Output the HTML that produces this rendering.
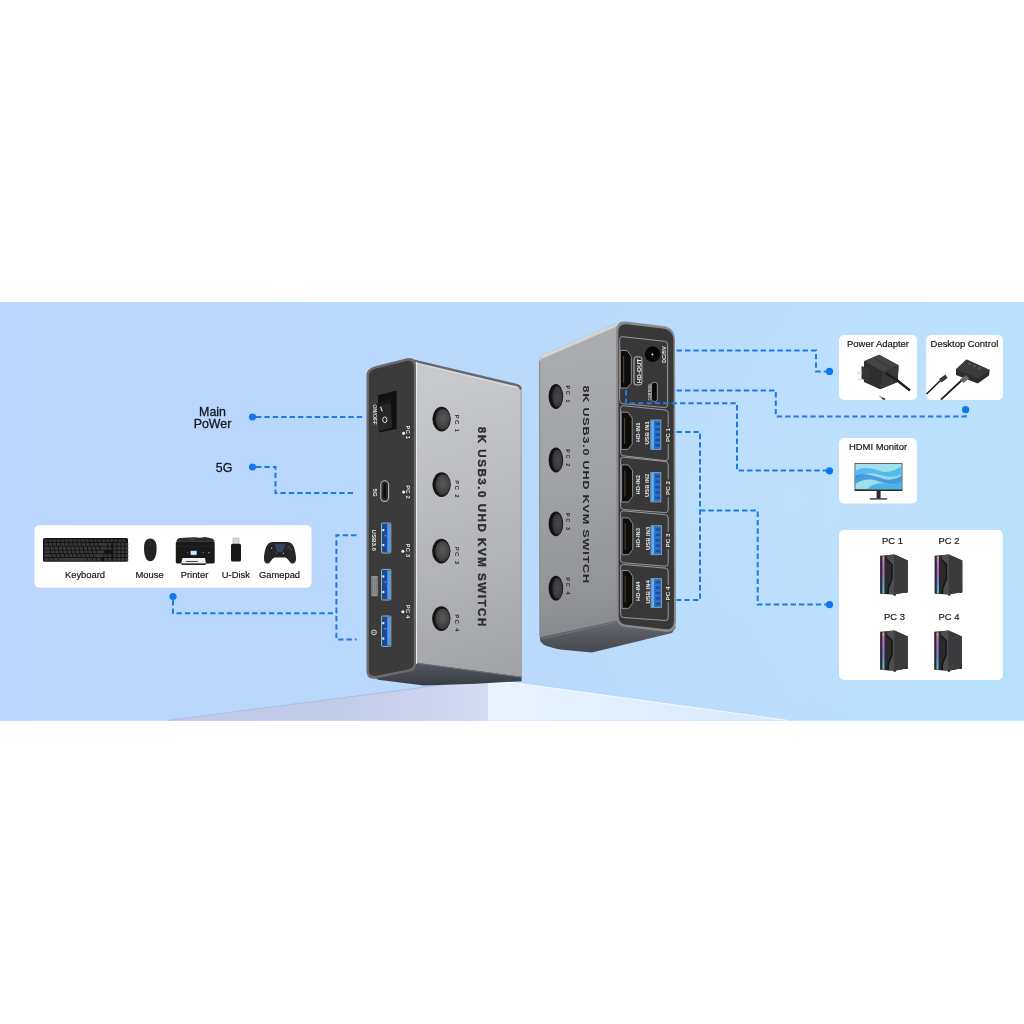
<!DOCTYPE html>
<html><head><meta charset="utf-8">
<style>
html,body{margin:0;padding:0;background:#fff;width:1024px;height:1024px;overflow:hidden}
svg{display:block;will-change:transform}
text{font-family:"Liberation Sans",sans-serif}
</style></head>
<body>
<svg width="1024" height="1024" viewBox="0 0 1024 1024">
<defs>
  <linearGradient id="bg" x1="0" y1="0" x2="1" y2="0">
    <stop offset="0" stop-color="#bad6fe"/>
    <stop offset="0.45" stop-color="#b9d9fd"/>
    <stop offset="0.75" stop-color="#b9ddfd"/>
    <stop offset="1" stop-color="#b9e1fd"/>
  </linearGradient>
  <radialGradient id="glow" cx="790" cy="500" r="280" gradientUnits="userSpaceOnUse">
    <stop offset="0" stop-color="#cde8fd" stop-opacity="0.25"/>
    <stop offset="1" stop-color="#cde8fd" stop-opacity="0"/>
  </radialGradient>
  <linearGradient id="pedL" x1="168" y1="0" x2="488" y2="0" gradientUnits="userSpaceOnUse">
    <stop offset="0" stop-color="#bfcae8"/>
    <stop offset="0.55" stop-color="#c2cbe8"/>
    <stop offset="0.8" stop-color="#ccd4ee"/>
    <stop offset="1" stop-color="#d5dcf1"/>
  </linearGradient>
  <linearGradient id="pedR" x1="488" y1="0" x2="788" y2="0" gradientUnits="userSpaceOnUse">
    <stop offset="0" stop-color="#e9f3fe"/>
    <stop offset="1" stop-color="#d8eafd"/>
  </linearGradient>
  <linearGradient id="sideL" x1="430" y1="370" x2="515" y2="676" gradientUnits="userSpaceOnUse">
    <stop offset="0" stop-color="#c9cacd"/>
    <stop offset="0.5" stop-color="#b8b9bd"/>
    <stop offset="1" stop-color="#a1a2a6"/>
  </linearGradient>
  <linearGradient id="undL" x1="0" y1="662" x2="0" y2="686" gradientUnits="userSpaceOnUse">
    <stop offset="0" stop-color="#555962"/>
    <stop offset="1" stop-color="#383b43"/>
  </linearGradient>
  <linearGradient id="undR" x1="0" y1="625" x2="0" y2="652" gradientUnits="userSpaceOnUse">
    <stop offset="0" stop-color="#62656c"/>
    <stop offset="0.5" stop-color="#53565d"/>
    <stop offset="1" stop-color="#45484f"/>
  </linearGradient>
  <linearGradient id="sideR" x1="560" y1="340" x2="600" y2="640" gradientUnits="userSpaceOnUse">
    <stop offset="0" stop-color="#abacb0"/>
    <stop offset="0.5" stop-color="#a0a1a5"/>
    <stop offset="0.85" stop-color="#929397"/>
    <stop offset="1" stop-color="#85868a"/>
  </linearGradient>
  <radialGradient id="btnL" cx="0.5" cy="0.45" r="0.6">
    <stop offset="0" stop-color="#58585a"/>
    <stop offset="0.7" stop-color="#434345"/>
    <stop offset="1" stop-color="#2a2a2b"/>
  </radialGradient>
  <radialGradient id="btnR" cx="0.5" cy="0.5" r="0.6">
    <stop offset="0" stop-color="#4a4a4c"/>
    <stop offset="0.7" stop-color="#38383a"/>
    <stop offset="1" stop-color="#232324"/>
  </radialGradient>
  <linearGradient id="scr" x1="0" y1="0" x2="1" y2="1">
    <stop offset="0" stop-color="#a8dcf2"/>
    <stop offset="0.5" stop-color="#9ee0ea"/>
    <stop offset="1" stop-color="#7fd2e8"/>
  </linearGradient>
  <linearGradient id="rgb" x1="0" y1="0" x2="0" y2="1">
    <stop offset="0" stop-color="#d8a878"/>
    <stop offset="0.15" stop-color="#c070c8"/>
    <stop offset="0.45" stop-color="#a868d0"/>
    <stop offset="0.7" stop-color="#6a90d8"/>
    <stop offset="1" stop-color="#48c8b8"/>
  </linearGradient>
</defs>

<!-- background band -->
<rect x="0" y="302" width="1024" height="418.8" fill="url(#bg)"/>
<rect x="0" y="302" width="1024" height="418.8" fill="url(#glow)"/>

<!-- pedestal -->
<polygon points="168,720.5 488,679 488,720.5" fill="url(#pedL)"/>
<polygon points="488,679 788,720.5 488,720.5" fill="url(#pedR)"/>
<line x1="168" y1="720.3" x2="488" y2="679" stroke="#a9b9dc" stroke-width="0.8"/>
<line x1="488.5" y1="679.3" x2="788" y2="720.5" stroke="#f6faff" stroke-width="1"/>

<!-- ===== LEFT DEVICE ===== -->
<g id="devL">
  <!-- underside -->
  <polygon points="412,661 521.6,675.5 521.6,681.2 476,683.8 424,685.6 378,679.8 372,676" fill="url(#undL)"/>
  <!-- side face -->
  <path d="M412,360.2 L517,385.2 Q521.6,386.2 521.6,390 L521.6,676.8 L412,662.3 Z" fill="url(#sideL)"/>
  <path d="M412,362 L518,387.5" stroke="#d9dadc" stroke-width="1.6"/>
  <line x1="414" y1="662.8" x2="521.6" y2="677.3" stroke="#6d7078" stroke-width="1"/>
  <path d="M409.5,359.6 L517,385.1 Q520,385.9 520.6,388.5" stroke="#66686d" stroke-width="2.4" stroke-linecap="round" fill="none"/>
  <line x1="416.6" y1="362" x2="416.6" y2="664" stroke="#f2f2f3" stroke-width="1"/>
  <line x1="521.1" y1="390" x2="521.1" y2="676" stroke="#9a9ca3" stroke-width="1"/>
  <!-- buttons -->
  <g>
    <ellipse cx="441.6" cy="419.1" rx="9.2" ry="12.3" fill="#151516"/>
    <ellipse cx="442.90000000000003" cy="419.40000000000003" rx="7.3" ry="10.4" fill="url(#btnL)"/>
    <ellipse cx="441.6" cy="484.6" rx="9.2" ry="12.3" fill="#151516"/>
    <ellipse cx="442.90000000000003" cy="484.90000000000003" rx="7.3" ry="10.4" fill="url(#btnL)"/>
    <ellipse cx="441.3" cy="551.1" rx="9.2" ry="12.3" fill="#151516"/>
    <ellipse cx="442.6" cy="551.4" rx="7.3" ry="10.4" fill="url(#btnL)"/>
    <ellipse cx="441.3" cy="618.6" rx="9.2" ry="12.3" fill="#151516"/>
    <ellipse cx="442.6" cy="618.9" rx="7.3" ry="10.4" fill="url(#btnL)"/>
  </g>
  <g font-size="6" font-weight="bold" fill="#2a2b2e">
    <text transform="translate(455.2,414.6) rotate(90)" textLength="17.2" lengthAdjust="spacing">PC 1</text>
    <text transform="translate(455.2,480.3) rotate(90)" textLength="17.2" lengthAdjust="spacing">PC 2</text>
    <text transform="translate(455,546.8) rotate(90)" textLength="17.2" lengthAdjust="spacing">PC 3</text>
    <text transform="translate(455,614.3) rotate(90)" textLength="17.2" lengthAdjust="spacing">PC 4</text>
  </g>
  <text transform="translate(477.6,426.8) rotate(90)" font-size="11.6" font-weight="bold" fill="#2c2d31" stroke="#2c2d31" stroke-width="0.35" textLength="199.5" lengthAdjust="spacing">8K USB3.0 UHD KVM SWITCH</text>
  <!-- front face -->
  <path d="M376,366 L407,358.2 Q416,356.5 416,366 L416,664 Q416,670.5 409,671.5 L376,678.5 Q366.5,680 366.5,671 L366.5,375 Q366.5,368.3 376,366 Z" fill="#6a6b6e"/>
  <path d="M377,368.3 L406.5,361 Q413.8,359.5 413.8,367 L413.8,663 Q413.8,668.5 408,669.5 L376.5,675.8 Q368.8,677 368.8,670 L368.8,376.5 Q368.8,370.3 377,368.3 Z" fill="#3b3b3b"/>
  <!-- rocker switch -->
  <polygon points="378,395.2 396.6,390.6 396.6,429 379,432.6" fill="#101011"/>
  <polygon points="375.6,404.5 390.5,398.5 392.2,427.8 379.5,431.2" fill="#272728"/>
  <polygon points="375.6,404.5 390.5,398.5 390.8,402.5 377,407.5" fill="#1a1a1b"/>
  <line x1="380.6" y1="406.8" x2="382.2" y2="411.4" stroke="#ececec" stroke-width="1.1"/>
  <ellipse cx="384.8" cy="419.8" rx="2.1" ry="2.9" fill="none" stroke="#ececec" stroke-width="0.9"/>
  <text transform="translate(373.2,404.2) rotate(90)" font-size="4.6" font-weight="bold" fill="#d8d8d8" textLength="20.5" lengthAdjust="spacingAndGlyphs">ON/OFF</text>
  <!-- LEDs -->
  <g fill="#f2f2f2">
    <circle cx="403.6" cy="433.3" r="1.5"/>
    <circle cx="403.6" cy="492" r="1.5"/>
    <circle cx="402.9" cy="551.2" r="1.5"/>
    <circle cx="402.9" cy="611.7" r="1.5"/>
  </g>
  <g font-size="5.6" font-weight="bold" fill="#e6e6e6">
    <text transform="translate(406,425.6) rotate(90)" textLength="13.5" lengthAdjust="spacing">PC 1</text>
    <text transform="translate(406,485.2) rotate(90)" textLength="13.5" lengthAdjust="spacing">PC 2</text>
    <text transform="translate(405.6,543.6) rotate(90)" textLength="13.5" lengthAdjust="spacing">PC 3</text>
    <text transform="translate(405.6,604.8) rotate(90)" textLength="13.5" lengthAdjust="spacing">PC 4</text>
  </g>
  <!-- type c 5G -->
  <rect x="380.8" y="480.8" width="7.8" height="20.6" rx="3.9" fill="#2a2a2b" stroke="#b9b9bb" stroke-width="1.1"/>
  <rect x="383.4" y="484" width="2.6" height="14.2" rx="1.3" fill="#0c0c0c"/>
  <text transform="translate(372.8,488.6) rotate(90)" font-size="6" font-weight="bold" fill="#e6e6e6">5G</text>
  <!-- USB ports -->
  <g>
    <rect x="381.5" y="523" width="9.3" height="30" rx="1" fill="#1d4a90" stroke="#a9abb0" stroke-width="1"/>
    <rect x="387.2" y="524" width="3" height="28" fill="#4a9cf0"/>
    <rect x="382.3" y="529" width="2" height="2.2" fill="#e8eef6"/>
    <rect x="382.3" y="544" width="2" height="2.2" fill="#e8eef6"/>
    <rect x="384.8" y="535" width="1.2" height="1.4" fill="#8aa8d0"/>
    <rect x="381.5" y="569.4" width="9.3" height="30.6" rx="1" fill="#1d4a90" stroke="#a9abb0" stroke-width="1"/>
    <rect x="387.2" y="570.4" width="3" height="28.6" fill="#4a9cf0"/>
    <rect x="382.3" y="575.4" width="2" height="2.2" fill="#e8eef6"/>
    <rect x="382.3" y="591.0" width="2" height="2.2" fill="#e8eef6"/>
    <rect x="384.8" y="581.4" width="1.2" height="1.4" fill="#8aa8d0"/>
    <rect x="381.5" y="616" width="9.3" height="30.4" rx="1" fill="#1d4a90" stroke="#a9abb0" stroke-width="1"/>
    <rect x="387.2" y="617" width="3" height="28.4" fill="#4a9cf0"/>
    <rect x="382.3" y="622" width="2" height="2.2" fill="#e8eef6"/>
    <rect x="382.3" y="637.4" width="2" height="2.2" fill="#e8eef6"/>
    <rect x="384.8" y="628" width="1.2" height="1.4" fill="#8aa8d0"/>
  </g>
  <text transform="translate(372.2,529.5) rotate(90)" font-size="5.6" font-weight="bold" fill="#e6e6e6" textLength="21.5" lengthAdjust="spacingAndGlyphs">USB3.0</text>
  <rect x="371.3" y="576" width="6.5" height="20.3" fill="#8d8e91"/>
  <g stroke="#6e6f72" stroke-width="0.6">
    <line x1="372.5" y1="578" x2="372.5" y2="594"/><line x1="374.5" y1="578" x2="374.5" y2="594"/><line x1="376.5" y1="578" x2="376.5" y2="594"/>
  </g>
  <circle cx="374" cy="632.4" r="2.4" fill="none" stroke="#e6e6e6" stroke-width="0.9"/>
  <line x1="372.5" y1="632.4" x2="375.5" y2="632.4" stroke="#e6e6e6" stroke-width="0.6"/>
</g>

<!-- ===== RIGHT DEVICE ===== -->
<g id="devR">
  <!-- underside -->
  <path d="M540,636 L617,619.5 L676,627 L672,633 L592,652.5 L560,649.5 Q541,646 540,640 Z" fill="url(#undR)"/>
  <!-- side face -->
  <path d="M538.9,360 Q538.9,356 542.5,354.8 L617,322.5 L617,620.5 L539.6,637.5 Z" fill="url(#sideR)"/>
  <line x1="539.5" y1="361" x2="539.9" y2="636" stroke="#85878d" stroke-width="0.9"/>
  <path d="M541,639 L617,622" stroke="#74777e" stroke-width="1.2"/>
  <path d="M539.3,360.5 Q539.3,356 542.5,354.8 L617,322.5 L617,326.5 L542,358.8 Q539.6,360 539.3,362 Z" fill="#d2d3d6"/>
  <!-- buttons -->
  <g>
    <ellipse cx="555.9" cy="396.5" rx="7.3" ry="12.4" fill="#121213"/>
    <ellipse cx="557.5" cy="396.7" rx="5.2" ry="10.6" fill="url(#btnR)"/>
    <ellipse cx="555.9" cy="460" rx="7.3" ry="12.4" fill="#121213"/>
    <ellipse cx="557.5" cy="460.2" rx="5.2" ry="10.6" fill="url(#btnR)"/>
    <ellipse cx="555.9" cy="523.8" rx="7.3" ry="12.4" fill="#121213"/>
    <ellipse cx="557.5" cy="524.0" rx="5.2" ry="10.6" fill="url(#btnR)"/>
    <ellipse cx="555.9" cy="588.2" rx="7.3" ry="12.4" fill="#121213"/>
    <ellipse cx="557.5" cy="588.4000000000001" rx="5.2" ry="10.6" fill="url(#btnR)"/>
  </g>
  <g font-size="5.4" font-weight="bold" fill="#2a2b2e">
    <text transform="translate(566.3,385.6) rotate(90)" textLength="17" lengthAdjust="spacing">PC 1</text>
    <text transform="translate(566.3,449.2) rotate(90)" textLength="17" lengthAdjust="spacing">PC 2</text>
    <text transform="translate(566.3,513) rotate(90)" textLength="17" lengthAdjust="spacing">PC 3</text>
    <text transform="translate(566.3,577.4) rotate(90)" textLength="17" lengthAdjust="spacing">PC 4</text>
  </g>
  <text transform="translate(582.6,385.4) rotate(90) scale(1,0.78)" font-size="12.6" font-weight="bold" fill="#26272b" textLength="197.6" lengthAdjust="spacing">8K USB3.0 UHD KVM SWITCH</text>
  <!-- front face -->
  <path d="M616,331 Q616,320.5 626,321.5 L663,326 Q675,327.5 675,340 L676,621 Q676,632.5 667,632 L626,627 Q616.5,626 616.5,617 Z" fill="#8a8b8f"/>
  <path d="M618.3,332 Q618.3,323.5 626.5,324.3 L662.5,328.6 Q673.5,330 673.5,341 L674,620 Q674,629.8 666.5,629.3 L626,624.7 Q618.7,624 618.7,616.5 Z" fill="#383838"/>
  <!-- panels -->
  <g fill="none" stroke="#a3a4a8" stroke-width="0.9">
    <path d="M619.7,339.4 Q619.7,336.4 622.7,336.7 L664.6,341.3 Q667.6,341.6 667.6,344.6 L667.6,404.8 Q667.6,407.8 664.6,407.5 L622.7,403.6 Q619.7,403.3 619.7,400.3 Z"/>
    <path d="M668.2,444 L668.2,458 Q668.2,461 665.2,460.7 L623.6,455.8 Q620.6,455.5 620.6,452.5 L620.6,408.4 Q620.6,405.4 623.6,405.7 L665.2,410.0 Q668.2,410.3 668.2,413.3 L668.2,427"/>
    <path d="M668.2,497 L668.2,509.9 Q668.2,512.9 665.2,512.6 L623.6,509.5 Q620.6,509.2 620.6,506.2 L620.6,459.9 Q620.6,456.9 623.6,457.2 L665.2,461.5 Q668.2,461.8 668.2,464.8 L668.2,479.5"/>
    <path d="M668.2,549 L668.2,563.5 Q668.2,566.5 665.2,566.2 L623.6,562.8 Q620.6,562.5 620.6,559.5 L620.6,513.6 Q620.6,510.6 623.6,510.90000000000003 L665.2,514.7 Q668.2,515 668.2,518 L668.2,532"/>
    <path d="M668.2,602 L668.2,617.8 Q668.2,620.8 665.2,620.5 L623.6,617.5 Q620.6,617.2 620.6,614.2 L620.6,567.2 Q620.6,564.2 623.6,564.5 L665.2,568.1 Q668.2,568.4 668.2,571.4 L668.2,585"/>
    </g>
  <!-- HDMI ports -->
  <g fill="#0d0c0b" stroke="#9c9da1" stroke-width="0.9">
    <path d="M620.3,350.4 L627.2,350.6 L631.3,356.3 L631.3,383 L627.2,388 L620.3,388 Z"/>
    <path d="M621.2,412.1 L628,412.3 L632.2,418 L632.2,444 L628,449.4 L621.2,449.4 Z"/>
    <path d="M621.6,464.8 L628.4,465 L632.6,470.7 L632.6,496.5 L628.4,502 L621.6,502 Z"/>
    <path d="M622,517.8 L628.8,518 L632.8,523.7 L632.8,549.2 L628.8,554.7 L622,554.7 Z"/>
    <path d="M622,570.5 L628.8,570.7 L632.8,576.4 L632.8,602.8 L628.8,608.3 L622,608.3 Z"/>
  </g>
  <g fill="#5a4a32" opacity="0.8">
    <rect x="623" y="356" width="1.2" height="27"/>
    <rect x="624" y="418" width="1.2" height="26"/>
    <rect x="624.3" y="470.5" width="1.2" height="26"/>
    <rect x="624.6" y="523.5" width="1.2" height="26"/>
    <rect x="624.6" y="576.2" width="1.2" height="26.5"/>
  </g>
  <!-- HD-OUT box -->
  <rect x="634" y="356.9" width="7.9" height="28" rx="2" fill="none" stroke="#c8c8ca" stroke-width="0.9"/>
  <text transform="translate(640.6,383.2) rotate(-90)" font-size="6" font-weight="bold" fill="#eeeeee" textLength="24.5" lengthAdjust="spacingAndGlyphs">HD-OUT</text>
  <!-- DC jack -->
  <circle cx="652.6" cy="354.2" r="7.8" fill="#070707"/>
  <circle cx="652.4" cy="354.6" r="1" fill="#f0f0f0"/>
  <text transform="translate(665.8,363) rotate(-90)" font-size="5.2" font-weight="bold" fill="#e6e6e6" textLength="16.7" lengthAdjust="spacingAndGlyphs">DC/5V</text>
  <!-- Type C control -->
  <rect x="651.5" y="382.2" width="5.8" height="19.4" rx="2.9" fill="#070707" stroke="#a9aaad" stroke-width="0.8"/>
  <text transform="translate(650.6,400.5) rotate(-90)" font-size="3.2" font-weight="bold" fill="#dcdcdc" textLength="17" lengthAdjust="spacingAndGlyphs">CONTROL</text>
  <!-- USB ports -->
  <g>
    <rect x="650.8" y="420" width="10.1" height="29.4" fill="#2a6fc8" stroke="#9fa3a8" stroke-width="0.8"/>
    <rect x="651.3" y="420.5" width="2.6" height="28.4" fill="#5fb0f6"/>
    <rect x="650.8" y="472.5" width="10.1" height="29.4" fill="#2a6fc8" stroke="#9fa3a8" stroke-width="0.8"/>
    <rect x="651.3" y="473" width="2.6" height="28.4" fill="#5fb0f6"/>
    <rect x="651" y="525.7" width="10.6" height="29" fill="#2a6fc8" stroke="#9fa3a8" stroke-width="0.8"/>
    <rect x="651.5" y="526.2" width="2.6" height="28" fill="#5fb0f6"/>
    <rect x="651" y="578.4" width="10.6" height="29" fill="#2a6fc8" stroke="#9fa3a8" stroke-width="0.8"/>
    <rect x="651.5" y="578.9" width="2.6" height="28" fill="#5fb0f6"/>
  </g>
  <g fill="#1a4f9c"><rect x="655.3" y="422.7" width="4.6" height="2.2"/><rect x="655.3" y="428.1" width="4.6" height="2.2"/><rect x="655.3" y="433.5" width="4.6" height="2.2"/><rect x="655.3" y="438.9" width="4.6" height="2.2"/><rect x="655.3" y="444.3" width="4.6" height="2.2"/><rect x="655.3" y="475.2" width="4.6" height="2.2"/><rect x="655.3" y="480.6" width="4.6" height="2.2"/><rect x="655.3" y="486.0" width="4.6" height="2.2"/><rect x="655.3" y="491.4" width="4.6" height="2.2"/><rect x="655.3" y="496.8" width="4.6" height="2.2"/><rect x="655.6" y="528.4" width="4.6" height="2.2"/><rect x="655.6" y="533.8" width="4.6" height="2.2"/><rect x="655.6" y="539.2" width="4.6" height="2.2"/><rect x="655.6" y="544.6" width="4.6" height="2.2"/><rect x="655.6" y="550.0" width="4.6" height="2.2"/><rect x="655.6" y="581.1" width="4.6" height="2.2"/><rect x="655.6" y="586.5" width="4.6" height="2.2"/><rect x="655.6" y="591.9" width="4.6" height="2.2"/><rect x="655.6" y="597.3" width="4.6" height="2.2"/><rect x="655.6" y="602.7" width="4.6" height="2.2"/></g>
  <!-- labels -->
  <g font-size="5.2" font-weight="bold" fill="#e4e4e4">
    <text transform="translate(639.6,442) rotate(-90)" textLength="19.5" lengthAdjust="spacingAndGlyphs">HD-IN1</text>
    <text transform="translate(649.3,444.5) rotate(-90)" textLength="23.2" lengthAdjust="spacingAndGlyphs">USB IN1</text>
    <text transform="translate(670.3,442) rotate(-90)" textLength="14" lengthAdjust="spacingAndGlyphs">PC 1</text>
    <text transform="translate(639.8,494.5) rotate(-90)" textLength="19.5" lengthAdjust="spacingAndGlyphs">HD-IN2</text>
    <text transform="translate(649.4,497) rotate(-90)" textLength="23.2" lengthAdjust="spacingAndGlyphs">USB IN2</text>
    <text transform="translate(670.3,495) rotate(-90)" textLength="14" lengthAdjust="spacingAndGlyphs">PC 2</text>
    <text transform="translate(640,547.5) rotate(-90)" textLength="19.5" lengthAdjust="spacingAndGlyphs">HD-IN3</text>
    <text transform="translate(649.6,550) rotate(-90)" textLength="23.2" lengthAdjust="spacingAndGlyphs">USB IN3</text>
    <text transform="translate(670.3,547.5) rotate(-90)" textLength="14" lengthAdjust="spacingAndGlyphs">PC 3</text>
    <text transform="translate(640,601) rotate(-90)" textLength="19.5" lengthAdjust="spacingAndGlyphs">HD-IN4</text>
    <text transform="translate(649.6,603.5) rotate(-90)" textLength="23.2" lengthAdjust="spacingAndGlyphs">USB IN4</text>
    <text transform="translate(670.3,600.5) rotate(-90)" textLength="14" lengthAdjust="spacingAndGlyphs">PC 4</text>
  </g>
</g>

<!-- ===== DASHED LINES ===== -->
<g fill="none" stroke="#1f7ae4" stroke-width="2" stroke-dasharray="5.4 3">
  <path d="M256,417 H363"/>
  <path d="M256,467 H275.5 V493 H355"/>
  <path d="M173,600 V613.3 H336.4"/>
  <path d="M356.5,535.2 H336.4 V639.4 H356.5"/>
</g>
<g fill="#1177ee">
  <circle cx="252.5" cy="417" r="3.6"/>
  <circle cx="252.5" cy="467" r="3.6"/>
  <circle cx="173" cy="596.5" r="3.6"/>
</g>

<!-- labels left -->
<g font-size="12.4" fill="#141820" stroke="#141820" stroke-width="0.3" text-anchor="middle">
  <text x="212.5" y="415.5">Main</text>
  <text x="212.5" y="428">PoWer</text>
  <text x="224" y="471.5">5G</text>
</g>

<!-- left white box -->
<rect x="34.5" y="525.3" width="277" height="62.4" rx="5" fill="#fff"/>
<g font-size="9.4" fill="#151515" stroke="#151515" stroke-width="0.18" text-anchor="middle">
  <text x="85" y="578">Keyboard</text>
  <text x="149.6" y="578">Mouse</text>
  <text x="194.5" y="578">Printer</text>
  <text x="235.8" y="578">U-Disk</text>
  <text x="279.5" y="578">Gamepad</text>
</g>

<!-- right boxes -->
<rect x="839" y="335" width="78" height="65" rx="5" fill="#fff"/>
<rect x="926.2" y="335" width="76.8" height="65" rx="5" fill="#fff"/>
<rect x="839" y="438" width="78" height="65.5" rx="5" fill="#fff"/>
<rect x="839" y="530" width="163.8" height="150" rx="5" fill="#fff"/>
<g font-size="9.45" fill="#151515" stroke="#151515" stroke-width="0.18" text-anchor="middle">
  <text x="878" y="346.7">Power Adapter</text>
  <text x="964.4" y="346.7">Desktop Control</text>
  <text x="878" y="450">HDMI Monitor</text>
  <text x="892.5" y="544">PC 1</text>
  <text x="949" y="544">PC 2</text>
  <text x="894.5" y="620">PC 3</text>
  <text x="949" y="620">PC 4</text>
</g>


<!-- icons left box -->
<g><rect x="43" y="538" width="85" height="23.8" rx="1.6" fill="#141415"/><g fill="#39393c"><rect x="44.6" y="539.4" width="3.1" height="2.3" rx="0.3"/><rect x="48.7" y="539.4" width="3.1" height="2.3" rx="0.3"/><rect x="52.8" y="539.4" width="3.1" height="2.3" rx="0.3"/><rect x="56.9" y="539.4" width="3.1" height="2.3" rx="0.3"/><rect x="61.0" y="539.4" width="3.1" height="2.3" rx="0.3"/><rect x="65.1" y="539.4" width="3.1" height="2.3" rx="0.3"/><rect x="69.2" y="539.4" width="3.1" height="2.3" rx="0.3"/><rect x="73.3" y="539.4" width="3.1" height="2.3" rx="0.3"/><rect x="77.4" y="539.4" width="3.1" height="2.3" rx="0.3"/><rect x="81.5" y="539.4" width="3.1" height="2.3" rx="0.3"/><rect x="85.6" y="539.4" width="3.1" height="2.3" rx="0.3"/><rect x="89.7" y="539.4" width="3.1" height="2.3" rx="0.3"/><rect x="93.8" y="539.4" width="3.1" height="2.3" rx="0.3"/><rect x="97.9" y="539.4" width="3.1" height="2.3" rx="0.3"/><rect x="102.0" y="539.4" width="3.1" height="2.3" rx="0.3"/><rect x="106.1" y="539.4" width="3.1" height="2.3" rx="0.3"/><rect x="110.2" y="539.4" width="3.1" height="2.3" rx="0.3"/><rect x="114.3" y="539.4" width="3.1" height="2.3" rx="0.3"/><rect x="118.4" y="539.4" width="3.1" height="2.3" rx="0.3"/><rect x="122.5" y="539.4" width="3.1" height="2.3" rx="0.3"/><rect x="44.6" y="543.0" width="3.2" height="2.85" rx="0.3"/><rect x="48.8" y="543.0" width="3.2" height="2.85" rx="0.3"/><rect x="52.9" y="543.0" width="3.2" height="2.85" rx="0.3"/><rect x="57.0" y="543.0" width="3.2" height="2.85" rx="0.3"/><rect x="61.2" y="543.0" width="3.2" height="2.85" rx="0.3"/><rect x="65.3" y="543.0" width="3.2" height="2.85" rx="0.3"/><rect x="69.5" y="543.0" width="3.2" height="2.85" rx="0.3"/><rect x="73.7" y="543.0" width="3.2" height="2.85" rx="0.3"/><rect x="77.8" y="543.0" width="3.2" height="2.85" rx="0.3"/><rect x="82.0" y="543.0" width="3.2" height="2.85" rx="0.3"/><rect x="86.1" y="543.0" width="3.2" height="2.85" rx="0.3"/><rect x="90.3" y="543.0" width="3.2" height="2.85" rx="0.3"/><rect x="94.4" y="543.0" width="3.2" height="2.85" rx="0.3"/><rect x="98.6" y="543.0" width="6.3" height="2.85" rx="0.3"/><rect x="104.2" y="543.0" width="3.05" height="2.85" rx="0.3"/><rect x="108.2" y="543.0" width="3.05" height="2.85" rx="0.3"/><rect x="113.3" y="543.0" width="3.05" height="2.85" rx="0.3"/><rect x="117.3" y="543.0" width="3.05" height="2.85" rx="0.3"/><rect x="121.2" y="543.0" width="3.05" height="2.85" rx="0.3"/><rect x="125.2" y="543.0" width="3.05" height="2.85" rx="0.3"/><rect x="44.6" y="546.8" width="5.0" height="2.85" rx="0.3"/><rect x="50.6" y="546.8" width="3.2" height="2.85" rx="0.3"/><rect x="54.7" y="546.8" width="3.2" height="2.85" rx="0.3"/><rect x="58.9" y="546.8" width="3.2" height="2.85" rx="0.3"/><rect x="63.0" y="546.8" width="3.2" height="2.85" rx="0.3"/><rect x="67.2" y="546.8" width="3.2" height="2.85" rx="0.3"/><rect x="71.3" y="546.8" width="3.2" height="2.85" rx="0.3"/><rect x="75.5" y="546.8" width="3.2" height="2.85" rx="0.3"/><rect x="79.6" y="546.8" width="3.2" height="2.85" rx="0.3"/><rect x="83.8" y="546.8" width="3.2" height="2.85" rx="0.3"/><rect x="87.9" y="546.8" width="3.2" height="2.85" rx="0.3"/><rect x="92.1" y="546.8" width="3.2" height="2.85" rx="0.3"/><rect x="96.2" y="546.8" width="3.2" height="2.85" rx="0.3"/><rect x="100.4" y="546.8" width="4.4" height="2.85" rx="0.3"/><rect x="104.2" y="546.8" width="3.05" height="2.85" rx="0.3"/><rect x="108.2" y="546.8" width="3.05" height="2.85" rx="0.3"/><rect x="113.3" y="546.8" width="3.05" height="2.85" rx="0.3"/><rect x="117.3" y="546.8" width="3.05" height="2.85" rx="0.3"/><rect x="121.2" y="546.8" width="3.05" height="2.85" rx="0.3"/><rect x="125.2" y="546.8" width="3.05" height="2.85" rx="0.3"/><rect x="44.6" y="550.5" width="5.6" height="2.85" rx="0.3"/><rect x="51.1" y="550.5" width="3.2" height="2.85" rx="0.3"/><rect x="55.3" y="550.5" width="3.2" height="2.85" rx="0.3"/><rect x="59.4" y="550.5" width="3.2" height="2.85" rx="0.3"/><rect x="63.6" y="550.5" width="3.2" height="2.85" rx="0.3"/><rect x="67.8" y="550.5" width="3.2" height="2.85" rx="0.3"/><rect x="71.9" y="550.5" width="3.2" height="2.85" rx="0.3"/><rect x="76.1" y="550.5" width="3.2" height="2.85" rx="0.3"/><rect x="80.2" y="550.5" width="3.2" height="2.85" rx="0.3"/><rect x="84.4" y="550.5" width="3.2" height="2.85" rx="0.3"/><rect x="88.5" y="550.5" width="3.2" height="2.85" rx="0.3"/><rect x="92.7" y="550.5" width="3.2" height="2.85" rx="0.3"/><rect x="96.8" y="550.5" width="7.4" height="2.85" rx="0.3"/><rect x="113.3" y="550.5" width="3.05" height="2.85" rx="0.3"/><rect x="117.3" y="550.5" width="3.05" height="2.85" rx="0.3"/><rect x="121.2" y="550.5" width="3.05" height="2.85" rx="0.3"/><rect x="125.2" y="550.5" width="3.05" height="2.85" rx="0.3"/><rect x="44.6" y="554.2" width="7.0" height="2.85" rx="0.3"/><rect x="52.6" y="554.2" width="3.2" height="2.85" rx="0.3"/><rect x="56.7" y="554.2" width="3.2" height="2.85" rx="0.3"/><rect x="60.9" y="554.2" width="3.2" height="2.85" rx="0.3"/><rect x="65.0" y="554.2" width="3.2" height="2.85" rx="0.3"/><rect x="69.2" y="554.2" width="3.2" height="2.85" rx="0.3"/><rect x="73.3" y="554.2" width="3.2" height="2.85" rx="0.3"/><rect x="77.5" y="554.2" width="3.2" height="2.85" rx="0.3"/><rect x="81.6" y="554.2" width="3.2" height="2.85" rx="0.3"/><rect x="85.8" y="554.2" width="3.2" height="2.85" rx="0.3"/><rect x="89.9" y="554.2" width="3.2" height="2.85" rx="0.3"/><rect x="94.1" y="554.2" width="9.2" height="2.85" rx="0.3"/><rect x="104.2" y="554.2" width="3.05" height="2.85" rx="0.3"/><rect x="108.2" y="554.2" width="3.05" height="2.85" rx="0.3"/><rect x="113.3" y="554.2" width="3.05" height="2.85" rx="0.3"/><rect x="117.3" y="554.2" width="3.05" height="2.85" rx="0.3"/><rect x="121.2" y="554.2" width="3.05" height="2.85" rx="0.3"/><rect x="125.2" y="554.2" width="3.05" height="2.85" rx="0.3"/><rect x="44.6" y="558.0" width="4.0" height="2.85" rx="0.3"/><rect x="49.6" y="558.0" width="3.2" height="2.85" rx="0.3"/><rect x="53.7" y="558.0" width="4.0" height="2.85" rx="0.3"/><rect x="58.7" y="558.0" width="28.0" height="2.85" rx="0.3"/><rect x="87.6" y="558.0" width="4.0" height="2.85" rx="0.3"/><rect x="92.6" y="558.0" width="3.2" height="2.85" rx="0.3"/><rect x="96.7" y="558.0" width="4.0" height="2.85" rx="0.3"/><rect x="104.2" y="558.0" width="3.05" height="2.85" rx="0.3"/><rect x="108.2" y="558.0" width="3.05" height="2.85" rx="0.3"/><rect x="113.3" y="558.0" width="3.05" height="2.85" rx="0.3"/><rect x="117.3" y="558.0" width="3.05" height="2.85" rx="0.3"/><rect x="121.2" y="558.0" width="3.05" height="2.85" rx="0.3"/><rect x="125.2" y="558.0" width="3.05" height="2.85" rx="0.3"/></g></g>
<path d="M150.2,538.6 C146,538.6 144,542 144,548 C144,556 146.2,561.2 150.3,561.2 C154.4,561.2 156.6,556 156.6,548 C156.6,542 154.4,538.6 150.2,538.6 Z" fill="#222224"/>
<path d="M150.2,539.5 L150.2,546" stroke="#444" stroke-width="0.6"/>
<!-- printer -->
<g>
  <path d="M176.5,541.8 Q176.5,538.5 180,538 L189,537.6 L194,537.2 L200,537.8 L205,537 L211,538.2 Q214.5,539 214.5,541.8 Z" fill="#2c2c2e"/>
  <rect x="189" y="538.4" width="6" height="2" fill="#3e3e40"/>
  <rect x="175.8" y="541.4" width="38.9" height="22.2" rx="1.6" fill="#19191a"/>
  <rect x="176.5" y="546" width="37.5" height="0.7" fill="#2a2a2c"/>
  <rect x="190.4" y="550.6" width="6.5" height="4.6" fill="#4a86c8"/>
  <rect x="190.9" y="551.1" width="5.5" height="3.6" fill="#d4e6f8"/>
  <rect x="187" y="552" width="1.5" height="1.2" fill="#555"/>
  <rect x="202.6" y="552" width="1.6" height="1.2" fill="#555"/>
  <rect x="208" y="552" width="2" height="1.2" fill="#666"/>
  <path d="M182.5,558 L205,558 L206,563.4 L181.2,563.4 Z" fill="#f0f0f2"/>
  <rect x="185.8" y="561" width="12" height="0.9" fill="#333"/>
  <path d="M181.2,563.4 L206,563.4 L205.5,565 L181.8,565 Z" fill="#2a2a2c"/>
</g>
<!-- usb disk -->
<rect x="233" y="538" width="6" height="6.5" fill="#d8d8da" stroke="#9a9a9c" stroke-width="0.5"/>
<rect x="231" y="543.8" width="10" height="17.8" rx="1.5" fill="#19191b"/>
<!-- gamepad -->
<path d="M268.5,543.6 C270,542.4 272,542 274,542 L286,542 C288,542 290,542.4 291.5,543.6 C294,545.5 295.8,552 296,558 C296.2,561.5 295,563.6 292.5,563.6 C290.5,563.6 289.5,561.8 288,559.6 C286.8,558 285.8,557.5 284,557.5 L276,557.5 C274.2,557.5 273.2,558 272,559.6 C270.5,561.8 269.5,563.6 267.5,563.6 C265,563.6 263.8,561.5 264,558 C264.2,552 266,545.5 268.5,543.6 Z" fill="#262628"/>
<path d="M275,544 L285,544 L283,552 L277,552 Z" fill="#34425e"/>
<circle cx="271.6" cy="548.2" r="2.2" fill="#1a1a1b"/>
<circle cx="271.6" cy="548.2" r="0.9" fill="#9a9a9c"/>
<circle cx="283.4" cy="553.4" r="2.2" fill="#1a1a1b"/>
<circle cx="283.4" cy="553.4" r="0.9" fill="#9a9a9c"/>
<circle cx="288.6" cy="547.2" r="0.9" fill="#555"/>
<circle cx="290.6" cy="549.2" r="0.9" fill="#555"/>
<circle cx="276.5" cy="553.4" r="1.2" fill="#3a3a3c"/>

<!-- power adapter -->
<g>
  <polygon points="864,361.2 879.2,354.8 898.5,365.2 897.7,382 880,389.2 864,382" fill="#2e2e30"/>
  <polygon points="864,361.2 879.2,354.8 898.5,365.2 883,371.5" fill="#454547"/>
  <line x1="873.5" y1="357.3" x2="891" y2="367.8" stroke="#2e2e30" stroke-width="0.7"/>
  <polygon points="883,371.5 898.5,365.2 897.7,382 880,389.2" fill="#39393b"/>
  <polygon points="861.5,366 869.5,368.8 869.5,381.5 861.5,379" fill="#333335"/>
  <line x1="857" y1="373.2" x2="862" y2="372.8" stroke="#d8d8da" stroke-width="1.2"/>
  <line x1="857" y1="379.6" x2="862" y2="379.2" stroke="#d8d8da" stroke-width="1.2"/>
  <path d="M886,373 L898,381 L910,390.5" stroke="#1c1c1e" stroke-width="2.4" fill="none"/>
  <path d="M879.5,396.2 L882,398" stroke="#aaa" stroke-width="1.6" fill="none"/>
  <path d="M882,398 L885,399.5" stroke="#333" stroke-width="1.6" fill="none"/>
</g>
<!-- desktop control -->
<g>
  <polygon points="956,369.2 966.5,359.6 989.7,370 989,375.6 977.7,383.6 956,375" fill="#2c2c2e"/>
  <polygon points="956,369.2 966.5,359.6 989.7,370 978.5,378.5" fill="#3b3b3e"/>
  <g fill="#555"><rect x="968" y="363" width="3" height="2" /><rect x="973" y="365" width="3" height="2"/><rect x="978" y="367" width="3" height="2"/></g>
  <path d="M926.5,394 L941,380" stroke="#1e1e20" stroke-width="1.6" fill="none"/>
  <polygon points="939,379 945.5,374.5 947.5,378 941.5,382.5" fill="#3a3a3c"/>
  <path d="M941,399.6 L962,380" stroke="#1e1e20" stroke-width="1.8" fill="none"/>
  <polygon points="960,379.5 966,375 969,378.5 963.5,383" fill="#6a6a6c"/>
</g>
<!-- monitor -->
<g>
  <rect x="854.6" y="463.2" width="47.8" height="27.8" fill="#2c2c2e"/>
  <rect x="855.3" y="463.9" width="46.4" height="25.4" fill="url(#scr)"/>
  <path d="M855.3,471 C862,466 872,468 880,471 C888,474 895,470 901.7,466.5 L901.7,474 C893,479 884,476 876,474 C868,472 861,475 855.3,479 Z" fill="#48b4ec" opacity="0.85"/>
  <path d="M855.3,476 C864,472 874,476 884,479 C892,481 897,478 901.7,476 L901.7,482 C894,486 886,484 878,481 C869,478 861,480 855.3,484 Z" fill="#2d86e0" opacity="0.75"/>
  <path d="M867,489.3 C872,484 880,482 888,484 C894,486 899,483 901.7,481 L901.7,489.3 Z" fill="#3fa8e8" opacity="0.8"/>
  <rect x="876.6" y="491" width="4" height="7.6" fill="#2c2c2e"/>
  <rect x="869.8" y="498.2" width="17.4" height="1.4" fill="#3a3a3c"/>
</g>
<!-- pcs -->
<g transform="translate(880.1,554.1)">
  <polygon points="0,1.6 14.3,0.3 27.7,6.4 27.7,38 14.3,40.5 0,39.6" fill="#2a2a2c"/>
  <polygon points="14.3,0.3 27.7,6.4 27.7,38 14.3,40.5" fill="#3b3b3e"/>
  <polygon points="7,1.2 14.3,0.4 14.3,40.4 8.5,40 8.5,34.5 12.3,25 12.3,10.5 7.2,5.5" fill="#4d4d50"/>
  <path d="M6.8,5.4 L11.8,10.4 L11.8,24.8 L8,34.4 L8,40" stroke="#121213" stroke-width="1.3" fill="none"/>
  <rect x="2.2" y="2.2" width="2.2" height="37.2" fill="url(#rgb)"/>
  <rect x="13.5" y="40" width="2.2" height="1.6" fill="#222"/>
  <rect x="25.5" y="37.4" width="1.8" height="1.4" fill="#222"/>
</g>
<g transform="translate(934.6,554.1)">
  <polygon points="0,1.6 14.3,0.3 27.7,6.4 27.7,38 14.3,40.5 0,39.6" fill="#2a2a2c"/>
  <polygon points="14.3,0.3 27.7,6.4 27.7,38 14.3,40.5" fill="#3b3b3e"/>
  <polygon points="7,1.2 14.3,0.4 14.3,40.4 8.5,40 8.5,34.5 12.3,25 12.3,10.5 7.2,5.5" fill="#4d4d50"/>
  <path d="M6.8,5.4 L11.8,10.4 L11.8,24.8 L8,34.4 L8,40" stroke="#121213" stroke-width="1.3" fill="none"/>
  <rect x="2.2" y="2.2" width="2.2" height="37.2" fill="url(#rgb)"/>
  <rect x="13.5" y="40" width="2.2" height="1.6" fill="#222"/>
  <rect x="25.5" y="37.4" width="1.8" height="1.4" fill="#222"/>
</g>
<g transform="translate(880.1,630.2)">
  <polygon points="0,1.6 14.3,0.3 27.7,6.4 27.7,38 14.3,40.5 0,39.6" fill="#2a2a2c"/>
  <polygon points="14.3,0.3 27.7,6.4 27.7,38 14.3,40.5" fill="#3b3b3e"/>
  <polygon points="7,1.2 14.3,0.4 14.3,40.4 8.5,40 8.5,34.5 12.3,25 12.3,10.5 7.2,5.5" fill="#4d4d50"/>
  <path d="M6.8,5.4 L11.8,10.4 L11.8,24.8 L8,34.4 L8,40" stroke="#121213" stroke-width="1.3" fill="none"/>
  <rect x="2.2" y="2.2" width="2.2" height="37.2" fill="url(#rgb)"/>
  <rect x="13.5" y="40" width="2.2" height="1.6" fill="#222"/>
  <rect x="25.5" y="37.4" width="1.8" height="1.4" fill="#222"/>
</g>
<g transform="translate(934.2,630.2)">
  <polygon points="0,1.6 14.3,0.3 27.7,6.4 27.7,38 14.3,40.5 0,39.6" fill="#2a2a2c"/>
  <polygon points="14.3,0.3 27.7,6.4 27.7,38 14.3,40.5" fill="#3b3b3e"/>
  <polygon points="7,1.2 14.3,0.4 14.3,40.4 8.5,40 8.5,34.5 12.3,25 12.3,10.5 7.2,5.5" fill="#4d4d50"/>
  <path d="M6.8,5.4 L11.8,10.4 L11.8,24.8 L8,34.4 L8,40" stroke="#121213" stroke-width="1.3" fill="none"/>
  <rect x="2.2" y="2.2" width="2.2" height="37.2" fill="url(#rgb)"/>
  <rect x="13.5" y="40" width="2.2" height="1.6" fill="#222"/>
  <rect x="25.5" y="37.4" width="1.8" height="1.4" fill="#222"/>
</g>
<!-- right dashed lines -->
<g fill="none" stroke="#1f7ae4" stroke-width="2" stroke-dasharray="5.4 3">
  <path d="M676.6,350.5 H816 V371.4 H826"/>
  <path d="M676.6,390.5 H775.8 V416.4 H965.6 V413"/>
  <path d="M626,390 V403.2 H737 V470.5 H826"/>
  <path d="M676.6,432 H700 V600 H676.6"/>
  <path d="M700,510.4 H757.7 V604.6 H826"/>
</g>
<g fill="#1177ee">
  <circle cx="829.5" cy="371.4" r="3.6"/>
  <circle cx="965.6" cy="409.7" r="3.6"/>
  <circle cx="829.5" cy="470.8" r="3.6"/>
  <circle cx="829.5" cy="604.6" r="3.6"/>
</g>

</svg>
</body></html>
